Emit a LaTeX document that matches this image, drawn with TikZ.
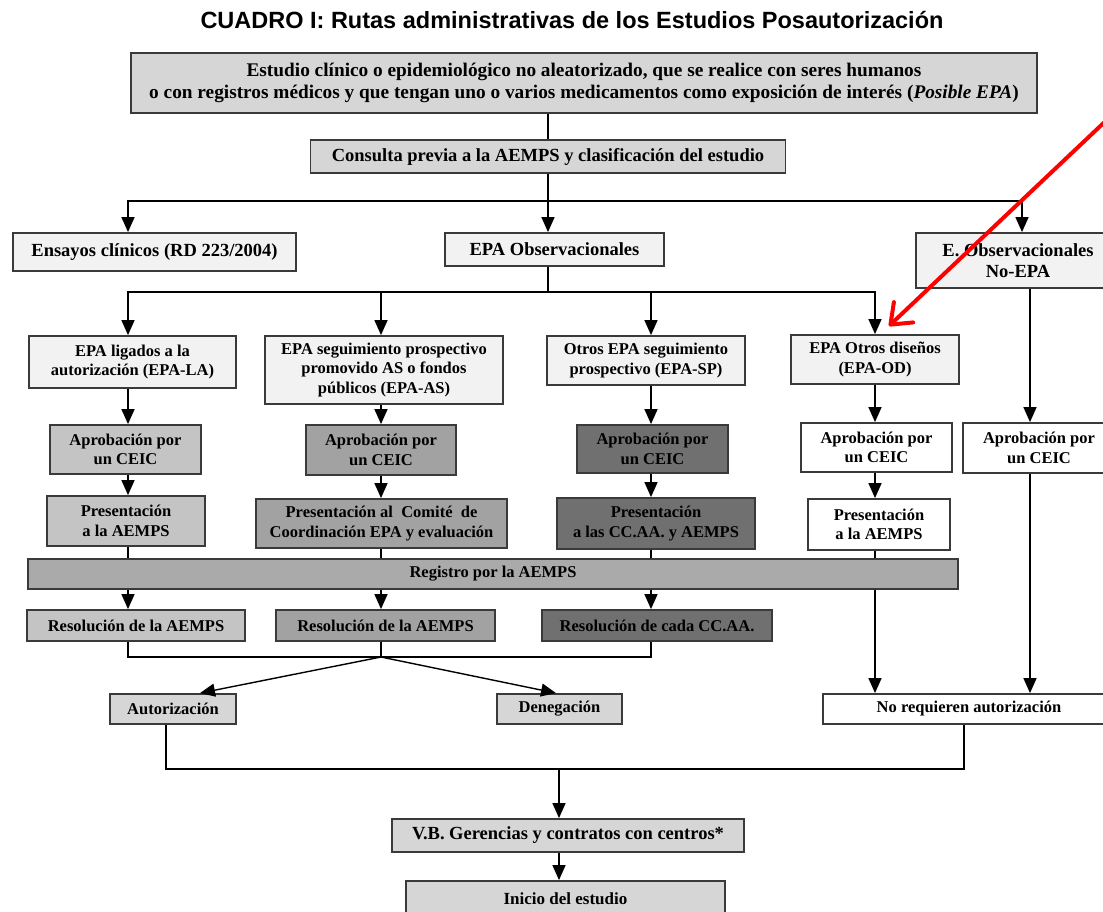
\documentclass[tikz,border=0pt]{standalone}
\usepackage{fontspec}
\setmainfont{Liberation Serif}
\newfontfamily\titlefont{Liberation Sans}
\usetikzlibrary{arrows.meta}

\definecolor{boxline}{HTML}{3A3A3A}
\definecolor{lightbox}{HTML}{F2F2F2}
\definecolor{topbox}{HTML}{D6D6D6}
\definecolor{labox}{HTML}{C4C4C4}
\definecolor{asbox}{HTML}{A2A2A2}
\definecolor{spbox}{HTML}{707070}
\definecolor{regbox}{HTML}{AAAAAA}

\begin{document}
\begin{tikzpicture}[x=1pt, y=-1pt, line width=1.4pt]
    \tikzstyle{box} = [draw=boxline, line width=1.8pt, align=center, inner sep=2pt, font=\bfseries\fontsize{16.5}{19.5}\selectfont]
    \tikzstyle{bigbox} = [box, font=\bfseries\fontsize{18.5}{21.5}\selectfont]
    \tikzstyle{arr} = [-{Triangle[length=15pt, width=13pt]}]

    \useasboundingbox (0,0) rectangle (1103,911);
    \clip (0,0) rectangle (1103,911);

    % Title
    \node[font=\titlefont\bfseries\fontsize{23.5}{28}\selectfont] (title) at (572,20) {CUADRO I: Rutas administrativas de los Estudios Posautorización};

    % Entry boxes (top, gray)
    \node[bigbox, fill=topbox, minimum width=906, minimum height=60, font=\bfseries\fontsize{19.3}{22}\selectfont] (start) at (584,83) {Estudio clínico o epidemiológico no aleatorizado, que se realice con seres humanos\\o con registros médicos y que tengan uno o varios medicamentos como exposición de interés (\textit{Posible EPA})};
    \node[bigbox, fill=topbox, minimum width=475, minimum height=33] (consulta) at (548,156.5) {Consulta previa a la AEMPS y clasificación del estudio};

    % Study types
    \node[bigbox, fill=lightbox, minimum width=283, minimum height=38] (ensayos) at (154.5,252) {Ensayos clínicos (RD 223/2004)};
    \node[bigbox, fill=lightbox, minimum width=219, minimum height=33] (epaobs) at (554.5,249.5) {EPA Observacionales};
    \node[bigbox, fill=lightbox, minimum width=204, minimum height=55] (noepa) at (1018,260.5) {E. Observacionales\\No-EPA};

    % EPA subtypes
    \node[box, fill=lightbox, minimum width=207, minimum height=52] (la) at (132.5,362) {EPA ligados a la\\autorización (EPA-LA)};
    \node[box, fill=lightbox, minimum width=238, minimum height=68] (as) at (384,370) {EPA seguimiento prospectivo\\promovido AS o fondos\\públicos (EPA-AS)};
    \node[box, fill=lightbox, minimum width=198, minimum height=49] (sp) at (646,360.5) {Otros EPA seguimiento\\prospectivo (EPA-SP)};
    \node[box, fill=lightbox, minimum width=168, minimum height=49] (od) at (875,359.5) {EPA Otros diseños\\(EPA-OD)};

    % Column coordinates
    \coordinate (c1) at (128,0);
    \coordinate (c2) at (381,0);
    \coordinate (c3) at (651,0);
    \coordinate (c4) at (875,0);
    \coordinate (c5) at (1030,0);

    % Approval boxes
    \node[box, fill=labox, minimum width=151, minimum height=49] (aprla) at (125.5,449.5) {Aprobación por\\un CEIC};
    \node[box, fill=asbox, minimum width=150, minimum height=50] (apras) at (381,450) {Aprobación por\\un CEIC};
    \node[box, fill=spbox, minimum width=151, minimum height=48] (aprsp) at (652.5,449) {Aprobación por\\un CEIC};
    \node[box, fill=white, minimum width=151, minimum height=49] (aprod) at (876.5,447.5) {Aprobación por\\un CEIC};
    \node[box, fill=white, minimum width=152, minimum height=50] (aprne) at (1039,448) {Aprobación por\\un CEIC};

    % Submission boxes
    \node[box, fill=labox, minimum width=158, minimum height=50] (presla) at (126,521) {Presentación\\a la AEMPS};
    \node[box, fill=asbox, minimum width=251, minimum height=49] (presas) at (381.5,523.5) {Presentación al~ Comité~ de\\Coordinación EPA y evaluación};
    \node[box, fill=spbox, minimum width=198, minimum height=51] (pressp) at (656,523.5) {Presentación\\a las CC.AA. y AEMPS};
    \node[box, fill=white, minimum width=142, minimum height=51] (presod) at (879,524.5) {Presentación\\a la AEMPS};

    % Register and resolutions
    \node[box, fill=regbox, minimum width=930, minimum height=30] (registro) at (493,574) {Registro por la AEMPS};
    \node[box, fill=labox, minimum width=218, minimum height=31] (resla) at (136,625.5) {Resolución de la AEMPS};
    \node[box, fill=asbox, minimum width=219, minimum height=31] (resas) at (385.5,625.5) {Resolución de la AEMPS};
    \node[box, fill=spbox, minimum width=230, minimum height=31] (ressp) at (657,625.5) {Resolución de cada CC.AA.};

    % Outcomes
    \node[box, fill=topbox, minimum width=126, minimum height=30] (autor) at (173,709) {Autorización};
    \node[box, fill=topbox, minimum width=125, minimum height=30] (deneg) at (559.5,709) {Denegación};
    \node[box, fill=white, minimum width=292, minimum height=30] (noreq) at (969,709) {No requieren autorización};
    \node[bigbox, fill=topbox, minimum width=352, minimum height=33] (vb) at (568,835.5) {V.B. Gerencias y contratos con centros*};
    \node[box, fill=topbox, minimum width=319, minimum height=36, font=\bfseries\fontsize{17}{20}\selectfont] (inicio) at (565.5,899) {Inicio del estudio};

    % Bus points
    \coordinate (bus1) at (548,201);
    \coordinate (bus2) at (548,292);
    \coordinate (bus3) at (381,657);
    \coordinate (bus4) at (559,769);

    % Top part
    \draw (start.south -| consulta.north) -- (consulta.north);
    \draw (consulta.south) -- (bus1);
    \draw[arr] (bus1) -| (ensayos.north -| c1);
    \draw[arr] (bus1) -- (epaobs.north -| bus1);
    \draw[arr] (bus1) -| (noepa.north -| 1022,0);

    % EPA split
    \draw (epaobs.south -| bus2) -- (bus2);
    \draw[arr] (bus2) -| (la.north -| c1);
    \draw[arr] (bus2 -| c2) -- (as.north -| c2);
    \draw[arr] (bus2 -| c3) -- (sp.north -| c3);
    \draw[arr] (bus2) -| (od.north -| c4);

    % Columns
    \draw[arr] (la.south -| c1) -- (aprla.north -| c1);
    \draw[arr] (aprla.south -| c1) -- (presla.north -| c1);
    \draw (presla.south -| c1) -- (registro.north -| c1);
    \draw[arr] (registro.south -| c1) -- (resla.north -| c1);
    \draw[arr] (as.south -| c2) -- (apras.north -| c2);
    \draw[arr] (apras.south -| c2) -- (presas.north -| c2);
    \draw (presas.south -| c2) -- (registro.north -| c2);
    \draw[arr] (registro.south -| c2) -- (resas.north -| c2);
    \draw[arr] (sp.south -| c3) -- (aprsp.north -| c3);
    \draw[arr] (aprsp.south -| c3) -- (pressp.north -| c3);
    \draw (pressp.south -| c3) -- (registro.north -| c3);
    \draw[arr] (registro.south -| c3) -- (ressp.north -| c3);
    \draw[arr] (od.south -| c4) -- (aprod.north -| c4);
    \draw[arr] (aprod.south -| c4) -- (presod.north -| c4);
    \draw (presod.south -| c4) -- (registro.north -| c4);
    \draw[arr] (registro.south -| c4) -- (noreq.north -| c4);
    \draw[arr] (noepa.south -| c5) -- (aprne.north -| c5);
    \draw[arr] (aprne.south -| c5) -- (noreq.north -| c5);

    % Resolutions
    \draw (resla.south -| c1) |- (bus3) -| (ressp.south -| c3);
    \draw (resas.south -| c2) -- (bus3);
    \draw[arr] (bus3) -- (autor.north -| 200,0);
    \draw[arr] (bus3) -- (deneg.north -| 556,0);

    % Final steps
    \draw (autor.south -| 166,0) |- (bus4) -| (noreq.south -| 964,0);
    \draw[arr] (bus4) -- (vb.north -| bus4);
    \draw[arr] (vb.south -| bus4) -- (inicio.north -| bus4);

    % Red pointer
    \coordinate (redstart) at (1112,115);
    \coordinate (redtip) at (889,326);
    \draw[red, line width=4pt, line cap=round, -{Straight Barb[length=18pt, width=28pt, round]}] (redstart) -- (redtip);
\end{tikzpicture}
\end{document}
